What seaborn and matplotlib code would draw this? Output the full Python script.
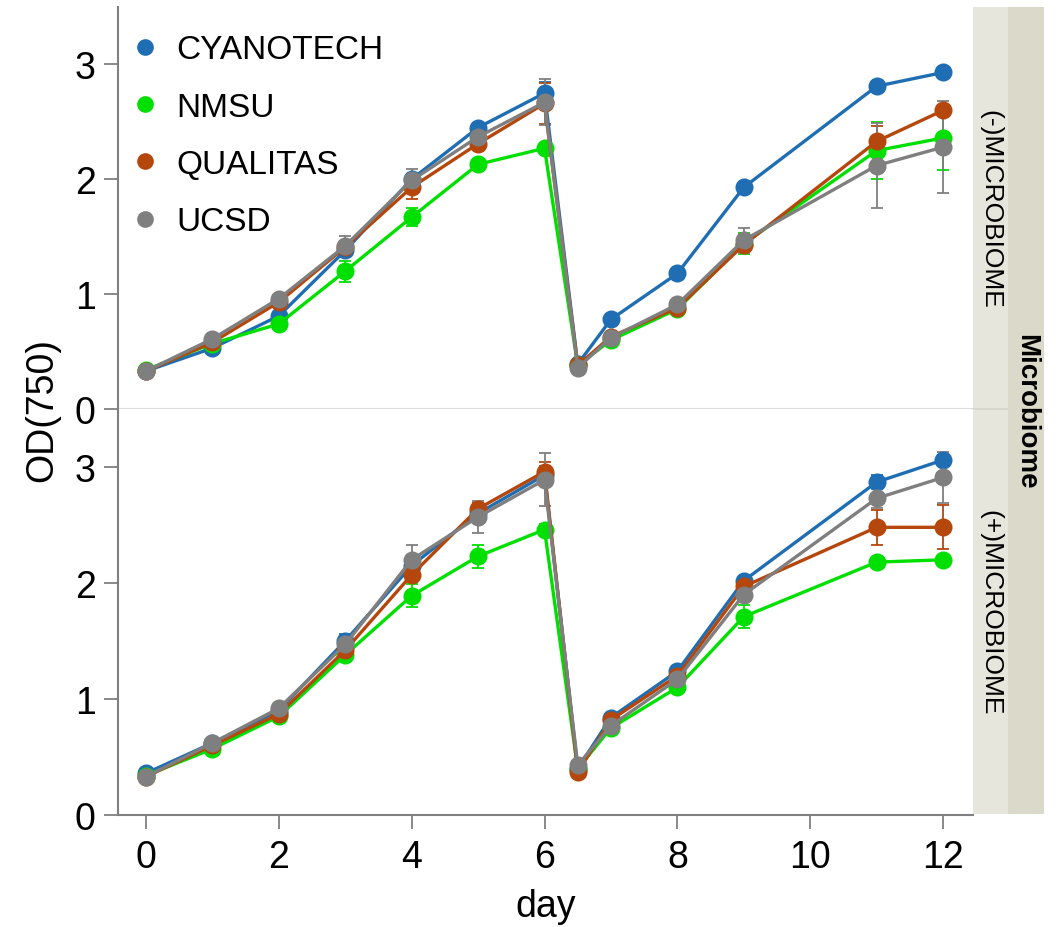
import numpy as np
import pandas as pd
import matplotlib
matplotlib.use("Agg")
import matplotlib.pyplot as plt
from matplotlib.lines import Line2D
import seaborn as sns

# Sampling days (6.5 = dilution point)
days = [0, 1, 2, 3, 4, 5, 6, 6.5, 7, 8, 9, 11, 12]
sites = ["CYANOTECH", "NMSU", "QUALITAS", "UCSD"]
panels = ["(-)MICROBIOME", "(+)MICROBIOME"]

# Mean OD(750), no microbiome added
cyan_minus = [0.33, 0.53, 0.81, 1.38, 2.00, 2.45, 2.75, 0.39, 0.78, 1.18, 1.93, 2.81, 2.93]
nmsu_minus = [0.34, 0.57, 0.74, 1.20, 1.67, 2.13, 2.27, 0.38, 0.60, 0.87, 1.44, 2.25, 2.36]
qual_minus = [0.33, 0.58, 0.93, 1.41, 1.93, 2.31, 2.66, 0.38, 0.63, 0.88, 1.43, 2.33, 2.60]
ucsd_minus = [0.33, 0.61, 0.96, 1.42, 1.99, 2.37, 2.67, 0.36, 0.62, 0.91, 1.47, 2.12, 2.28]

cyan_minus_sd = [0.01, 0.02, 0.03, 0.04, 0.05, 0.04, 0.10, 0.02, 0.03, 0.03, 0.04, 0.04, 0.03]
nmsu_minus_sd = [0.01, 0.02, 0.03, 0.09, 0.08, 0.05, 0.04, 0.02, 0.03, 0.03, 0.09, 0.25, 0.28]
qual_minus_sd = [0.01, 0.02, 0.03, 0.04, 0.10, 0.05, 0.18, 0.02, 0.03, 0.03, 0.05, 0.13, 0.05]
ucsd_minus_sd = [0.01, 0.02, 0.03, 0.09, 0.10, 0.05, 0.20, 0.02, 0.03, 0.03, 0.11, 0.37, 0.40]

# Mean OD(750), microbiome added
cyan_plus = [0.36, 0.62, 0.90, 1.50, 2.15, 2.60, 2.93, 0.40, 0.84, 1.24, 2.02, 2.87, 3.06]
nmsu_plus = [0.34, 0.57, 0.85, 1.38, 1.89, 2.23, 2.46, 0.40, 0.75, 1.10, 1.71, 2.18, 2.20]
qual_plus = [0.33, 0.60, 0.87, 1.42, 2.07, 2.64, 2.96, 0.37, 0.82, 1.20, 1.97, 2.48, 2.48]
ucsd_plus = [0.33, 0.62, 0.92, 1.47, 2.20, 2.57, 2.89, 0.43, 0.77, 1.17, 1.90, 2.73, 2.91]

cyan_plus_sd = [0.01, 0.02, 0.03, 0.06, 0.05, 0.04, 0.08, 0.02, 0.03, 0.03, 0.04, 0.06, 0.04]
nmsu_plus_sd = [0.01, 0.02, 0.03, 0.05, 0.10, 0.10, 0.05, 0.02, 0.04, 0.04, 0.10, 0.04, 0.03]
qual_plus_sd = [0.01, 0.02, 0.03, 0.04, 0.05, 0.05, 0.08, 0.02, 0.03, 0.03, 0.05, 0.15, 0.19]
ucsd_plus_sd = [0.01, 0.02, 0.03, 0.05, 0.13, 0.14, 0.23, 0.02, 0.03, 0.05, 0.05, 0.08, 0.22]

x_ticks = [0, 2, 4, 6, 8, 10, 12]
y_ticks = [0, 1, 2, 3]

palette = {"CYANOTECH": "#1f6eb4", "NMSU": "#00e000",
           "QUALITAS": "#b5470c", "UCSD": "#7f7f7f"}

means = {
    panels[0]: [cyan_minus, nmsu_minus, qual_minus, ucsd_minus],
    panels[1]: [cyan_plus, nmsu_plus, qual_plus, ucsd_plus],
}
sds = {
    panels[0]: [cyan_minus_sd, nmsu_minus_sd, qual_minus_sd, ucsd_minus_sd],
    panels[1]: [cyan_plus_sd, nmsu_plus_sd, qual_plus_sd, ucsd_plus_sd],
}

rows = []
for p in panels:
    for s, m, e in zip(sites, means[p], sds[p]):
        for d, v, sd in zip(days, m, e):
            rows.append({"panel": p, "site": s, "day": d, "od": v, "sd": sd})
df = pd.DataFrame(rows)

sns.set_theme(style="white")
plt.rcParams["font.family"] = ["Liberation Sans", "DejaVu Sans"]
plt.rcParams["text.color"] = "black"
plt.rcParams["axes.labelcolor"] = "black"
plt.rcParams["xtick.labelcolor"] = "black"
plt.rcParams["ytick.labelcolor"] = "black"

W, H, DPI = 1056, 928, 100
fig = plt.figure(figsize=(W / DPI, H / DPI), dpi=DPI)

def fx(px):
    return px / W

def fy(py):
    return 1 - py / H

left, right = 118, 973
bounds = [(8, 410), (410, 816)]
axes = []
for (top, bot) in bounds:
    ax = fig.add_axes([fx(left), fy(bot), fx(right - left), (bot - top) / H])
    axes.append(ax)

spine_col = "#808080"
for i, (ax, p) in enumerate(zip(axes, panels)):
    sub = df[df["panel"] == p]
    sns.lineplot(data=sub, x="day", y="od", hue="site", hue_order=sites,
                 palette=palette, marker="o", markersize=13,
                 markeredgewidth=0, linewidth=2.4, legend=False, ax=ax,
                 errorbar=None)
    for s in sites:
        ss = sub[sub["site"] == s]
        ax.errorbar(ss["day"], ss["od"], yerr=ss["sd"], fmt="none",
                    ecolor=palette[s], elinewidth=1.3, capsize=4,
                    capthick=1.3, zorder=1.5)
    ax.set_xlim(-0.42, 12.45)
    ax.set_ylim(0, 3.5)
    ax.set_yticks(y_ticks)
    ax.set_yticklabels([str(t) for t in y_ticks], fontsize=27)
    ax.set_xlabel("")
    ax.set_ylabel("")
    ax.spines["right"].set_visible(False)
    ax.spines["top"].set_visible(False)
    ax.spines["left"].set_color(spine_col)
    ax.spines["left"].set_linewidth(1.5)
    ax.tick_params(axis="y", direction="out", length=10, width=1.3,
                   color=spine_col, pad=6, left=True)
    if i == 0:
        ax.spines["bottom"].set_color("#dddddd")
        ax.spines["bottom"].set_linewidth(1.5)
        ax.set_xticks([])
        ax.tick_params(axis="x", bottom=False, labelbottom=False)
    else:
        ax.spines["bottom"].set_color(spine_col)
        ax.spines["bottom"].set_linewidth(1.5)
        ax.set_xticks(x_ticks)
        ax.set_xticklabels([str(t) for t in x_ticks], fontsize=27)
        ax.tick_params(axis="x", direction="out", length=10, width=1.3,
                       color=spine_col, pad=7, bottom=True)
        ax.set_xlabel("day", fontsize=27, labelpad=10)

fig.text(fx(42), fy(410), "OD(750)", rotation=90, fontsize=27,
         ha="center", va="center")

# Legend in the upper panel
handles = [Line2D([0], [0], marker="o", linestyle="none", markersize=12,
                  markeredgewidth=0, color=palette[s]) for s in sites]
axes[0].legend(handles, sites, loc="upper left", frameon=False,
               fontsize=24, handletextpad=0.42, labelspacing=0.79,
               borderaxespad=0.0, handlelength=1.0,
               bbox_to_anchor=(-0.003, 0.965))

# Facet strips on the right
inner_col = "#e6e6dd"
outer_col = "#dbd9c9"
for (top, bot), p in zip([(8, 410), (410, 815)], panels):
    sax = fig.add_axes([fx(973), fy(bot), fx(1008 - 973), (bot - top) / H])
    sax.set_facecolor(inner_col)
    sax.set_xticks([])
    sax.set_yticks([])
    for name in ["left", "right", "top", "bottom"]:
        sax.spines[name].set_visible(False)
    sax.text(0.5, 0.5, p, rotation=-90, fontsize=19, ha="center",
             va="center", transform=sax.transAxes)

# divider between the two inner strips
fig.add_artist(Line2D([fx(973), fx(1008)], [fy(410), fy(410)],
                      color="#d4d4cc", linewidth=1.2))

oax = fig.add_axes([fx(1008), fy(815), fx(1044 - 1008), (815 - 8) / H])
oax.set_facecolor(outer_col)
oax.set_xticks([])
oax.set_yticks([])
for name in ["left", "right", "top", "bottom"]:
    oax.spines[name].set_visible(False)
oax.text(0.5, 0.5, "Microbiome", rotation=-90, fontsize=20,
         fontweight="bold", ha="center", va="center",
         transform=oax.transAxes)

fig.savefig("out.png", dpi=DPI)
